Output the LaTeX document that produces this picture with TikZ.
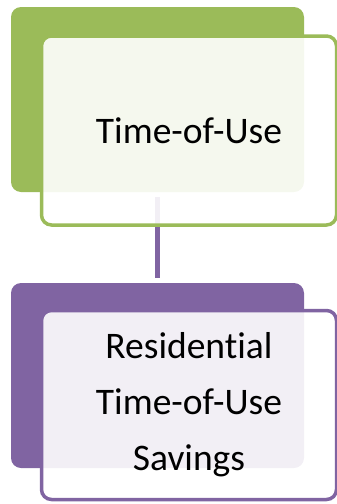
\documentclass[tikz,border=0pt]{standalone}
\usepackage{fontspec}
\setmainfont{Carlito}[Ligatures=CommonOff]
\definecolor{touGreen}{HTML}{9BBB59}
\definecolor{touPurple}{HTML}{8064A2}
\begin{document}
\begin{tikzpicture}[x=1pt,y=-1pt,
  every node/.style={align=center,rounded corners=10pt,inner sep=0pt},
  backbox/.style={minimum width=293pt,minimum height=185pt},
  frontbox/.style={draw=#1,line width=3.5pt,fill=white,fill opacity=0.9,text opacity=1,
    minimum width=295pt,minimum height=189pt,font=\fontsize{37.5}{56}\selectfont}]
  \useasboundingbox (0,0) rectangle (337,504);
  \node[backbox,fill=touGreen] (TB) at (157.5,99.5){};
  \node[backbox,fill=touPurple] (RB) at (157.5,375.5){};
  \draw[touPurple,line width=4.5pt,shorten <=5pt,shorten >=5pt] (TB) -- (RB);
  \node[frontbox=touGreen] (T) at (189,130.5){Time-of-Use};
  \node[frontbox=touPurple] (R) at (189,405){Residential\\Time-of-Use\\Savings};
\end{tikzpicture}
\end{document}
